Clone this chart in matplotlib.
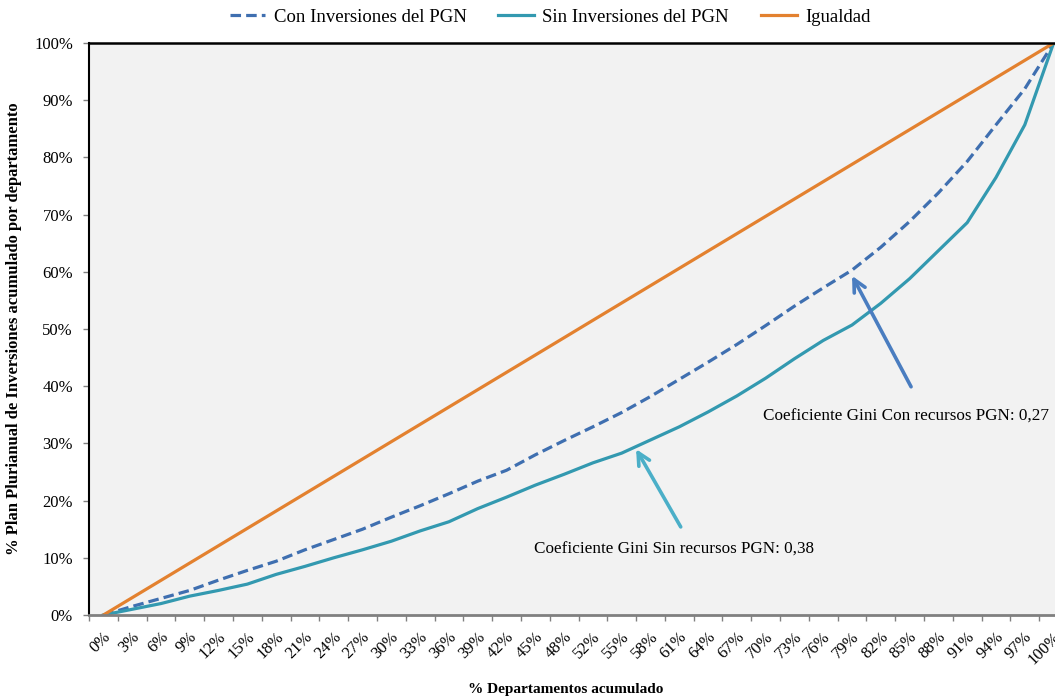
import numpy as np
import matplotlib
matplotlib.use("Agg")
import matplotlib.pyplot as plt
import matplotlib.transforms as mtransforms

# x categories: cumulative share of departments (33 departments + origin)
x_labels = ["0%", "3%", "6%", "9%", "12%", "15%", "18%", "21%", "24%", "27%",
            "30%", "33%", "36%", "39%", "42%", "45%", "48%", "52%", "55%", "58%",
            "61%", "64%", "67%", "70%", "73%", "76%", "79%", "82%", "85%", "88%",
            "91%", "94%", "97%", "100%"]

# cumulative % of Plan Plurianual de Inversiones
con_pgn = [0, 1.5, 2.9, 4.3, 6.1, 7.8, 9.4, 11.4, 13.2, 15.0,
           17.1, 19.1, 21.2, 23.4, 25.3, 28.0, 30.5, 32.9, 35.4, 38.2,
           41.2, 44.2, 47.3, 50.6, 54.0, 57.2, 60.3, 64.3, 68.8, 73.8,
           79.3, 85.7, 92.0, 100]
sin_pgn = [0, 1.0, 2.0, 3.3, 4.3, 5.4, 7.1, 8.5, 10.0, 11.4,
           12.9, 14.7, 16.3, 18.6, 20.6, 22.7, 24.6, 26.6, 28.3, 30.6,
           32.9, 35.5, 38.3, 41.4, 44.8, 48.0, 50.7, 54.5, 58.8, 63.7,
           68.6, 76.5, 85.7, 100]
igualdad = [0, 3.03, 6.06, 9.09, 12.12, 15.15, 18.18, 21.21, 24.24, 27.27,
            30.30, 33.33, 36.36, 39.39, 42.42, 45.45, 48.48, 51.52, 54.55, 57.58,
            60.61, 63.64, 66.67, 69.70, 72.73, 75.76, 78.79, 81.82, 84.85, 87.88,
            90.91, 93.94, 96.97, 100]

y_ticks = [0, 10, 20, 30, 40, 50, 60, 70, 80, 90, 100]

c_con = "#3F6FB0"
c_sin = "#3399B0"
c_igu = "#E3812F"

serif = ["Liberation Serif", "DejaVu Serif"]
plt.rcParams["font.family"] = serif

fig = plt.figure(figsize=(10.55, 6.98), dpi=100)
ax = fig.add_axes([89 / 1055, 1 - 615 / 698, (1068 - 89) / 1055, (615 - 43) / 698])
ax.set_facecolor("#F2F2F2")

x = np.arange(len(x_labels))
l_con, = ax.plot(x, con_pgn, color=c_con, lw=2.3, dashes=(3.3, 1.6),
                 label="Con Inversiones del PGN")
l_sin, = ax.plot(x, sin_pgn, color=c_sin, lw=2.3, label="Sin Inversiones del PGN")
l_igu, = ax.plot(x, igualdad, color=c_igu, lw=2.3, label="Igualdad")

ax.set_xlim(-0.5, len(x_labels) - 0.5)
ax.set_ylim(0, 100)

# tick marks between categories, labels centred on categories
ax.set_xticks(np.arange(len(x_labels) + 1) - 0.5)
ax.set_xticklabels([])
ax.set_xticks(x, minor=True)
ax.set_xticklabels(x_labels, minor=True, rotation=45, ha="right", va="center",
                   rotation_mode="anchor", fontsize=12)
ax.tick_params(axis="x", which="major", length=4, width=1, color="#808080", direction="out")
ax.tick_params(axis="x", which="minor", length=0, pad=14)
offset = mtransforms.ScaledTranslation(5 / 100, 0, fig.dpi_scale_trans)
for lbl in ax.get_xticklabels(minor=True):
    lbl.set_transform(lbl.get_transform() + offset)

ax.set_yticks(y_ticks)
ax.set_yticklabels([f"{v}%" for v in y_ticks], fontsize=12)
ax.tick_params(axis="y", length=4.5, width=1, color="#808080", pad=7)

ax.spines["top"].set_color("black")
ax.spines["top"].set_linewidth(1.8)
ax.spines["left"].set_color("black")
ax.spines["left"].set_linewidth(1.5)
ax.spines["bottom"].set_color("#808080")
ax.spines["bottom"].set_linewidth(2)
ax.spines["right"].set_visible(False)

ax.set_ylabel("% Plan Plurianual de Inversiones acumulado por departamento",
              fontsize=12, fontweight="bold", labelpad=9)
fig.text(566 / 1055, 1 - 690 / 698, "% Departamentos acumulado", fontsize=11,
         fontweight="bold", ha="center", va="center")

# Gini annotations
ax.annotate("", xy=(26.0, 59.3), xytext=(28.05, 39.9),
            arrowprops=dict(arrowstyle="->", color="#4A7DC0", lw=2.6,
                            mutation_scale=22, shrinkA=0, shrinkB=0))
ax.text(22.9, 34.6, "Coeficiente Gini Con recursos PGN: 0,27", fontsize=12.3,
        ha="left", va="center")
ax.annotate("", xy=(18.5, 29.0), xytext=(20.05, 15.4),
            arrowprops=dict(arrowstyle="->", color="#4BAFC8", lw=2.6,
                            mutation_scale=22, shrinkA=0, shrinkB=0))
ax.text(14.95, 11.4, "Coeficiente Gini Sin recursos PGN: 0,38", fontsize=12.3,
        ha="left", va="center")

fig.legend(handles=[l_con, l_sin, l_igu], loc="center", ncol=3, frameon=False,
           bbox_to_anchor=(550 / 1055, 1 - 17 / 698), fontsize=13.5,
           handlelength=1.9, handletextpad=0.45, columnspacing=1.7)

fig.savefig("out.png", dpi=100)
